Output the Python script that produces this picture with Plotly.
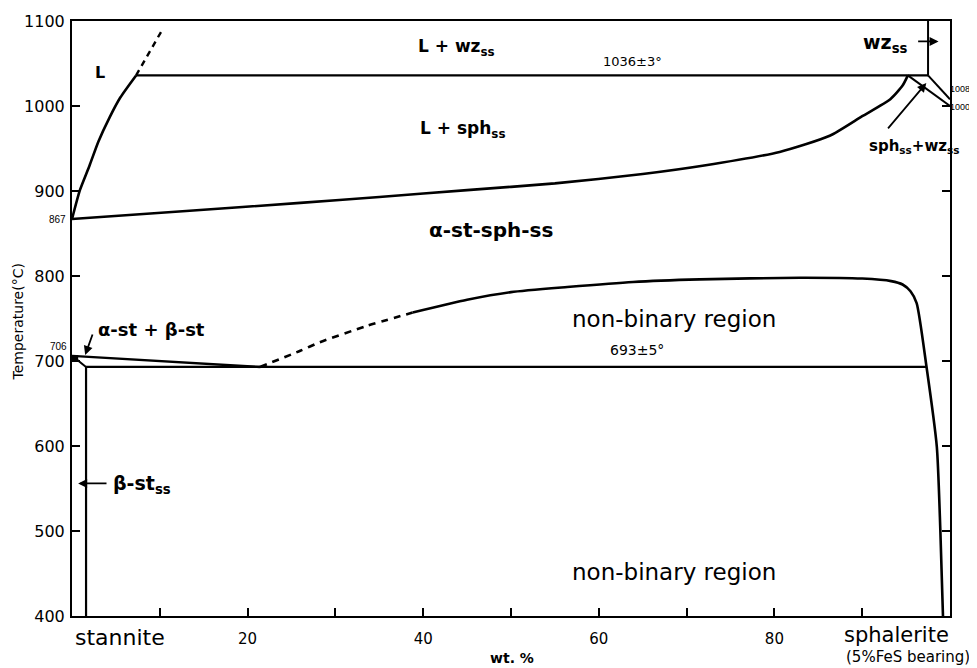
import plotly.graph_objects as go

# ---- data (wt.% sphalerite, temperature °C) ----
liquidus_x = [0, 0.9, 2.0, 3.0, 4.3, 5.5, 7.3]
liquidus_t = [867, 901, 930, 958, 987, 1010, 1036]
liquidus_ext_x = [7.3, 10.3]
liquidus_ext_t = [1036, 1090]

peritectic_x = [7.3, 97.5]
peritectic_t = [1036, 1036]

solidus_x = [0, 13, 26, 35, 45, 55, 65, 72, 80.6, 86.3, 90, 93.2, 94.6, 95.2]
solidus_t = [867, 876.5, 886, 893, 901, 909, 920, 930, 946, 965, 988, 1008, 1024, 1036]

wz_x = [97.5, 97.5]
wz_t = [1036, 1100]
sphwz_low_x = [95.2, 100]
sphwz_low_t = [1036, 1000]
sphwz_up_x = [97.5, 100]
sphwz_up_t = [1036, 1008]

solvus_dash_x = [21.4, 26, 28.2, 33.5, 38.8]
solvus_dash_t = [693, 712, 722, 741, 757]
solvus_x = [38.8, 45, 50, 56.4, 63.9, 71.5, 82.9, 90, 93.3, 94.6, 95.5, 96.2, 97.3, 98.5, 98.9, 99.2]
solvus_t = [757, 772, 781, 787, 793, 796, 798, 797, 794, 790, 782, 768, 695, 599, 501, 400]

eutectoid_x = [1.6, 97.3]
eutectoid_t = [693, 693]

ab_upper_x = [0, 21.4]
ab_upper_t = [706, 693]
ab_diag_x = [0, 0.5, 1.6]
ab_diag_t = [703, 702, 693]
ab_thick_x = [0, 0.7]
ab_thick_t = [704, 704]

bst_x = [1.6, 1.6]
bst_t = [693, 400]

x_tickvals = [10, 20, 30, 40, 50, 60, 70, 80, 90]
x_ticktext = ["", "20", "", "40", "", "60", "", "80", ""]
y_tickvals = [400, 500, 600, 700, 800, 900, 1000, 1100]

X_RANGE = [0, 100]
Y_RANGE = [400, 1100]

FONT = "DejaVu Sans"
SMALL_FONT = "Liberation Sans"
fig = go.Figure()


def line(x, t, width=2.6, dash="solid"):
    fig.add_trace(go.Scatter(x=x, y=t, mode="lines",
                             line=dict(color="black", width=width, dash=dash, shape="spline", smoothing=0.6),
                             hoverinfo="skip", showlegend=False))


def seg(x, t, width=2.4, dash="solid"):
    fig.add_trace(go.Scatter(x=x, y=t, mode="lines",
                             line=dict(color="black", width=width, dash=dash),
                             hoverinfo="skip", showlegend=False))


line(liquidus_x, liquidus_t)
seg(liquidus_ext_x, liquidus_ext_t, width=2.4, dash="6px,5px")
seg(peritectic_x, peritectic_t, width=2.4)
line(solidus_x, solidus_t)
seg(wz_x, wz_t, width=2)
seg(sphwz_low_x, sphwz_low_t, width=2)
seg(sphwz_up_x, sphwz_up_t, width=2)
line(solvus_dash_x, solvus_dash_t, width=2.6, dash="7px,6px")
line(solvus_x, solvus_t)
seg(eutectoid_x, eutectoid_t, width=2.2)
seg(ab_upper_x, ab_upper_t, width=2.4)
seg(ab_diag_x, ab_diag_t, width=2)
seg(ab_thick_x, ab_thick_t, width=5)
seg(bst_x, bst_t, width=2.2)


def label(x, y, text, size=17, bold=True, xanchor="center", **kw):
    fig.add_annotation(x=x, y=y, xref="x", yref="y", text=(f"<b>{text}</b>" if bold else text),
                       showarrow=False, xanchor=xanchor, yanchor="middle",
                       font=dict(family=FONT, size=size, color="black"), **kw)


def outer(x, y, text, size=17, bold=False, xanchor="center", textangle=0, family=FONT, xshift=0):
    # positions given in data units, converted to paper coordinates (outside the plot area)
    px = (x - X_RANGE[0]) / (X_RANGE[1] - X_RANGE[0])
    py = (y - Y_RANGE[0]) / (Y_RANGE[1] - Y_RANGE[0])
    fig.add_annotation(x=px, y=py, xref="paper", yref="paper", text=(f"<b>{text}</b>" if bold else text),
                       showarrow=False, xanchor=xanchor, yanchor="middle", textangle=textangle,
                       xshift=xshift, borderpad=0, font=dict(family=family, size=size, color="black"))


label(3.2, 1040, "L", size=16)
label(43.8, 1069, "L + wz<sub>ss</sub>", size=17)
label(63.8, 1052, "1036±3°", size=13, bold=False)
label(44.5, 972, "L + sph<sub>ss</sub>", size=17)
label(47.7, 854, "α-st-sph-ss", size=20)
label(68.6, 750, "non-binary region", size=23, bold=False)
label(64.3, 713, "693±5°", size=14, bold=False)
label(68.6, 452, "non-binary region", size=23, bold=False)
label(9.0, 737, "α-st + β-st", size=18)
label(4.4, 555, "β-st<sub>ss</sub>", size=19, xanchor="left")
label(92.7, 1074, "wz<sub>ss</sub>", size=19)
label(96.0, 952, "sph<sub>ss</sub>+wz<sub>ss</sub>", size=15)

outer(100.0, 1020, "1008", size=9, xanchor="left", family=SMALL_FONT, xshift=-1)
outer(100.0, 999, "1000", size=9, xanchor="left", family=SMALL_FONT, xshift=-1)
outer(-0.6, 866, "867", size=10, xanchor="right", family=SMALL_FONT)
outer(-0.5, 717, "706", size=10, xanchor="right", family=SMALL_FONT)
outer(5.5, 375, "stannite", size=22)
outer(93.9, 378, "sphalerite", size=21)
outer(95.2, 352, "(5%FeS bearing)", size=15)
outer(50.1, 351, "wt. %", size=14, bold=True)
outer(-6.2, 746, "Temperature(°C)", size=14, textangle=-90)

# arrows
arrows = [
    (1.5, 707, 2.4, 733),     # alpha-st + beta-st
    (0.7, 556, 4.1, 556),     # beta-st ss
    (98.7, 1076, 96.2, 1076), # wz ss
    (97.3, 1027, 92.8, 972),  # sph ss + wz ss
]
for hx, ht, tx, tt in arrows:
    fig.add_annotation(x=hx, y=ht, ax=tx, ay=tt, xref="x", yref="y", axref="x", ayref="y",
                       text="", showarrow=True, arrowhead=2, arrowsize=1, arrowwidth=1.8,
                       arrowcolor="black")

# page body adds an 8px margin, so the figure is sized/margined to compensate
fig.update_layout(
    width=969, height=660,
    margin=dict(l=64, r=27, t=13, b=52, autoexpand=False),
    plot_bgcolor="white", paper_bgcolor="white",
    showlegend=False,
    xaxis=dict(range=X_RANGE, showgrid=False, zeroline=False, showline=True, linecolor="black",
               linewidth=2, mirror=True, ticks="inside", ticklen=8, tickwidth=1.5, tickcolor="black",
               tickvals=x_tickvals, ticktext=x_ticktext, ticklabelstandoff=8, automargin=False,
               tickfont=dict(family=FONT, size=15, color="black")),
    yaxis=dict(range=Y_RANGE, showgrid=False, zeroline=False, showline=True, linecolor="black",
               linewidth=2, mirror="ticks", ticks="inside", ticklen=8, tickwidth=1.5, tickcolor="black",
               tickvals=y_tickvals, ticklabelstandoff=2, automargin=False,
               tickfont=dict(family=FONT, size=16, color="black")),
)

fig.write_html("out.html")
